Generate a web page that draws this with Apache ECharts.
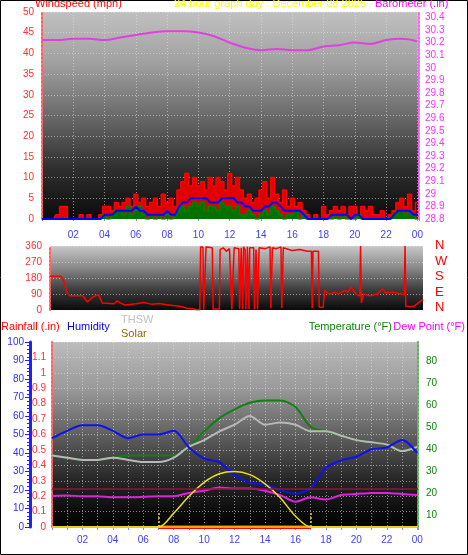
<!DOCTYPE html>
<html><head><meta charset="utf-8">
<script src="https://cdn.jsdelivr.net/npm/echarts@6/dist/echarts.min.js"></script>
<style>html,body{margin:0;padding:0;background:#fff}#c{width:468px;height:555px}</style>
</head><body><div id="c"></div>
<script>
// ---- data ----
const hourTicks = ['02','04','06','08','10','12','14','16','18','20','22','00'];
// wind at 15-min steps from 00:00 to 24:00
const windGust = [0,0,0,0, 1,3,3,0, 0,0,1,0, 1,0,0,1, 3,3,2,4, 3,4,5,3, 6,4,5,3, 4,5,3,6, 4,5,3,7, 9,11,8,10, 8,9,7,10, 8,10,9,7, 11,8,10,7, 5,6,4,5, 7,9,5,10, 6,4,7,3, 5,3,4,2, 1,0,1,0, 3,1,2,3, 2,3,1,3, 3,1,3,2, 3,1,1,2, 0,1,2,4, 5,3,6,2, 4];
const windAvg  = [0,0,0,0, 0,0,0,0, 0,0,0,0, 0,0,0,0, 1,1,1,2, 2,2,2,2, 3,2,2,1, 1,1,1,1, 2,1,1,3, 4,4,5,5, 5,5,5,4, 4,4,5,5, 5,5,4,4, 3,3,2,2, 2,3,3,4, 4,3,2,2, 2,2,2,1, 0,0,0,0, 0,0,1,1, 1,1,1,0, 1,1,0,0, 0,0,0,0, 0,0,1,2, 2,2,2,1, 1];
const windLow  = [0,0,0,0, 0,0,0,0, 0,0,0,0, 0,0,0,0, 1,0,1,2, 2,1,3,1, 2,3,1,0, 1,0,1,0, 1,0,1,2, 3,2,3,4, 3,4,2,3, 3,2,4,3, 3,2,3,1, 1,2,1,0, 1,2,1,3, 2,1,0,1, 1,2,0,1, 0,0,0,0, 0,0,0,1, 0,1,0,0, 0,1,0,0, 0,0,0,0, 0,0,1,2, 2,1,2,1, 0];
// hourly 00..24
const barometer = [30.22,30.22,30.23,30.23,30.22,30.24,30.26,30.28,30.29,30.29,30.28,30.25,30.20,30.16,30.14,30.15,30.14,30.14,30.17,30.18,30.20,30.19,30.22,30.23,30.21];
const windDir = [[0.5,190],[1.2,190],[1.4,160],[1.6,95],[1.8,80],[2.6,80],[2.9,45],[3.2,70],[3.6,88],[3.85,40],[4.6,35],[4.8,52],[5,40],[5.3,28],[6,35],[6.5,42],[7,33],[7.5,36],[8,30],[8.4,25],[9,18],[9.25,10],[9.6,8],[9.9,2],
[10.1,2],[10.15,355],[10.3,355],[10.35,2],[10.45,2],[10.5,355],[10.9,350],[10.95,5],[11.35,5],[11.4,340],[11.6,350],[11.8,330],[12.0,345],[12.1,355],[12.15,5],[12.25,5],[12.3,350],[12.6,345],[12.65,5],[12.75,350],[12.85,5],[12.9,355],[13.0,340],[13.05,5],[13.15,355],[13.25,5],[13.3,350],[13.55,350],[13.6,5],[13.7,340],[13.8,5],[13.9,350],[14.3,345],[14.4,355],[14.6,355],[14.65,10],[14.75,350],[15.0,345],[15.3,355],[15.35,10],[15.45,350],[16,335],[16.5,340],[17.0,330],[17.25,330],[17.3,10],[17.35,330],[17.7,330],[17.75,15],[18.0,15],[18.1,110],[18.4,90],[18.8,100],[19,90],[19.4,110],[19.6,100],[19.8,130],[20.1,90],[20.35,80],[20.4,360],[20.45,40],[20.6,90],[21,80],[21.5,90],[21.8,120],[22,95],[22.5,100],[23,90],[23.2,85],[23.25,360],[23.3,20],[23.8,20],[24.1,40],[24.4,60]];
const temperature = [37,36,35,35,36,37,37,37,37,41,48,54,58,61,62,62,59,50,48,46,44,43,42,39,41];
const thsw        = [37,36,35,35,36,35,34,34,36,41,44,48,51,55,51,52,51,48,48,46,44,43,42,39,41];
const humidity    = [48,52,55,55,52,48,50,50,52,43,37,35,28,24,23,20,18,21,32,36,38,42,43,47,40];
const dewPoint    = [18.6,18.8,18.5,18.5,18,18,18.2,18.5,18.5,20,21,22.5,22,22,21,19,16,18,17,19,19.5,20,20,19.5,19];
const solarHours  = [0,7,8,9,10,11,12,13,14,15,16,17,24];
const solar       = [0,0,0.09,0.2,0.29,0.345,0.36,0.34,0.28,0.19,0.07,0,0];
const rainfall    = [0,0];

// ---- build ----
const q = a => a.map((v,i)=>[i*0.25,v]);
const h = a => a.map((v,i)=>[i,v]);
const fmtH = v => (v%2===0 && v>0) ? String(v%24).padStart(2,'0') : '';
const G = (stops)=>new echarts.graphic.LinearGradient(0,0,0,1,stops.map((c,i)=>({offset:i/(stops.length-1),color:c})));
const grid = (c)=>({show:true,borderWidth:0,backgroundColor:c});
const dot = {lineStyle:{color:'rgba(230,230,230,0.55)',type:[1,2],width:1}};
const xl = {color:'#4040ff',fontSize:10,fontFamily:'Liberation Sans'};
const font = 'Liberation Sans';
const TF = '11px Liberation Sans';

const chart = echarts.init(document.getElementById('c'));
chart.setOption({
  animation:false,
  grid:[
    {left:42,right:49,top:12,height:207,...grid(G(['#c0c0c0','#a0a0a0','#6a6a6a','#303030','#0a0a0a']))},
    {left:50,right:45,top:246,height:64,...grid(G(['#c8c8c8','#8a8a8a','#404040','#0a0a0a']))},
    {left:52,right:50,top:342,height:185,...grid(G(['#bcbcbc','#9a9a9a','#606060','#252525','#000000']))}
  ],
  xAxis:[
    {gridIndex:0,type:'value',min:0,max:24.1,interval:2,axisLine:{show:false},axisTick:{show:true,length:2,lineStyle:{color:'#88f'}},
     axisLabel:{...xl,formatter:fmtH,margin:11},splitLine:{show:true,...dot}},
    {gridIndex:1,type:'value',min:0.5,max:24.4,axisLine:{show:false},axisTick:{show:false},axisLabel:{show:false},splitLine:{show:false}},
    {gridIndex:2,type:'value',min:0,max:24.05,interval:1,axisLine:{show:false},axisTick:{show:true,length:3,lineStyle:{color:'#88f'}},
     axisLabel:{...xl,formatter:fmtH,margin:8},splitLine:{show:true,...dot}}
  ],
  yAxis:[
    {gridIndex:0,type:'value',min:0,max:50,interval:5,axisLine:{show:true,lineStyle:{color:'#ff6060',type:[2,2],width:2}},axisTick:{show:false},
     axisLabel:{color:'#ff3030',fontSize:10,fontFamily:font,margin:8},splitLine:{show:true,...dot}},
    {gridIndex:0,type:'value',position:'right',min:28.8,max:30.443,axisLine:{show:true,lineStyle:{color:'#ff60ff',type:[2,2],width:2}},axisTick:{show:false},
     axisLabel:{color:'#ff30ff',fontSize:10,fontFamily:font,margin:6,customValues:[28.8,28.9,29,29.1,29.2,29.3,29.4,29.5,29.6,29.7,29.8,29.9,30,30.1,30.2,30.3,30.4],formatter:v=>String(+v.toFixed(1))},splitLine:{show:false}},
    {gridIndex:1,type:'value',min:0,max:360,interval:90,axisLine:{show:true,lineStyle:{color:'#ff6060',type:[2,2],width:2}},axisTick:{show:false},
     axisLabel:{color:'#ff3030',fontSize:10,fontFamily:font,margin:8},splitLine:{show:true,...dot}},
    {gridIndex:2,type:'value',position:'left',min:0,max:1.2,interval:0.1,axisLine:{show:true,lineStyle:{color:'#ff6060',type:[2,2],width:2}},axisTick:{show:false},
     axisLabel:{color:'#ff3030',fontSize:10,fontFamily:font,margin:6,formatter:v=>v>=1.15?'':String(+v.toFixed(1))},splitLine:{show:true,...dot}},
    {gridIndex:2,type:'value',position:'left',min:0,max:100,interval:10,offset:22,axisLine:{show:true,lineStyle:{color:'#2020ff',width:3}},axisTick:{show:true,length:5,lineStyle:{color:'#2020ff'}},
     minorTick:{show:true,splitNumber:5,length:3,lineStyle:{color:'#2020ff'}},
     axisLabel:{color:'#3030ff',fontSize:10,fontFamily:font,margin:6},splitLine:{show:false}},
    {gridIndex:2,type:'value',position:'right',min:4.5,max:88.6,axisLine:{show:true,lineStyle:{color:'#60b060',type:[2,2],width:2}},
     axisTick:{show:false},axisLabel:{color:'#108010',fontSize:10,fontFamily:font,margin:8,customValues:[10,20,30,40,50,60,70,80]},splitLine:{show:false}}
  ],
  series:[
    {type:'line',xAxisIndex:0,yAxisIndex:0,data:q(windGust),step:'middle',symbol:'none',lineStyle:{color:'#ff0000',width:1.5},areaStyle:{color:'#e00000',opacity:1},z:2},
    {type:'line',xAxisIndex:0,yAxisIndex:0,data:q(windLow),step:'middle',symbol:'none',lineStyle:{color:'#008000',width:1.5},areaStyle:{color:'#007000',opacity:1},z:3},
    {type:'line',xAxisIndex:0,yAxisIndex:0,data:q(windAvg),symbol:'none',lineStyle:{color:'#0000ff',width:2},z:4},
    {type:'line',xAxisIndex:0,yAxisIndex:1,data:h(barometer),smooth:0.4,symbol:'none',lineStyle:{color:'#e040e0',width:2}},
    {type:'line',xAxisIndex:1,yAxisIndex:2,data:windDir,symbol:'none',lineStyle:{color:'#ff0000',width:1.5}},
    {type:'line',xAxisIndex:2,yAxisIndex:3,data:[[7,0],[17,0]],symbol:'none',lineStyle:{color:'#ff0000',width:4},z:2},
    {type:'line',xAxisIndex:2,yAxisIndex:3,data:[[0,rainfall[0]],[24.05,rainfall[1]]],symbol:'none',lineStyle:{color:'#ffa000',width:2},z:3,
     markLine:{silent:true,symbol:'none',label:{show:false},data:[{yAxis:0.25,lineStyle:{color:'#8a1838',type:'solid',width:1.5}}]}},
    {type:'line',xAxisIndex:2,yAxisIndex:3,data:solarHours.map((t,i)=>[t,solar[i]]),smooth:0.3,symbol:'none',lineStyle:{color:'#e8e020',width:1.5},z:4,
     markLine:{silent:true,symbol:'none',label:{show:false},data:[
       [{coord:[7,0]},{coord:[7,0.1]}],[{coord:[17,0]},{coord:[17,0.1]}]],lineStyle:{color:'#e8e020',type:[2,2],width:1.5}}},
    {type:'line',xAxisIndex:2,yAxisIndex:5,data:h(temperature),smooth:0.3,symbol:'none',lineStyle:{color:'#108010',width:2}},
    {type:'line',xAxisIndex:2,yAxisIndex:5,data:h(thsw),smooth:0.3,symbol:'none',lineStyle:{color:'#b8b8b8',width:2}},
    {type:'line',xAxisIndex:2,yAxisIndex:4,data:h(humidity),smooth:0.3,symbol:'none',lineStyle:{color:'#1010f0',width:2}},
    {type:'line',xAxisIndex:2,yAxisIndex:5,data:h(dewPoint),smooth:0.3,symbol:'none',lineStyle:{color:'#e020e0',width:2}}
  ],
  graphic:[
    {type:'rect',shape:{x:0.5,y:0.5,width:467,height:554},style:{fill:'none',stroke:'#000',lineWidth:1}},
    {type:'text',left:35,top:-2,style:{text:'Windspeed (mph)',fill:'#ff0000',font:TF}},
    {type:'text',left:174,top:-2,style:{text:'24 hour graph day : December 08 2025',fill:'#ffff00',font:TF}},
    {type:'text',left:375,top:-2,style:{text:'Barometer (.in)',fill:'#ff00ff',font:TF}},
    {type:'text',left:435,top:238,style:{text:'N\nW\nS\nE\nN',fill:'#ff0000',font:'13px Liberation Sans',lineHeight:15.5}},
    {type:'text',left:1,top:321,style:{text:'Rainfall (.in)',fill:'#ff0000',font:TF}},
    {type:'text',left:67,top:321,style:{text:'Humidity',fill:'#0000ff',font:TF}},
    {type:'text',left:121,top:314,style:{text:'THSW',fill:'#c0c0c0',font:TF}},
    {type:'text',left:121,top:328,style:{text:'Solar',fill:'#807000',font:TF}},
    {type:'text',right:76,top:321,style:{text:'Temperature (°F)',fill:'#108010',font:TF}},
    {type:'text',right:3,top:321,style:{text:'Dew Point (°F)',fill:'#ff00ff',font:TF}}
  ]
});
</script></body></html>
